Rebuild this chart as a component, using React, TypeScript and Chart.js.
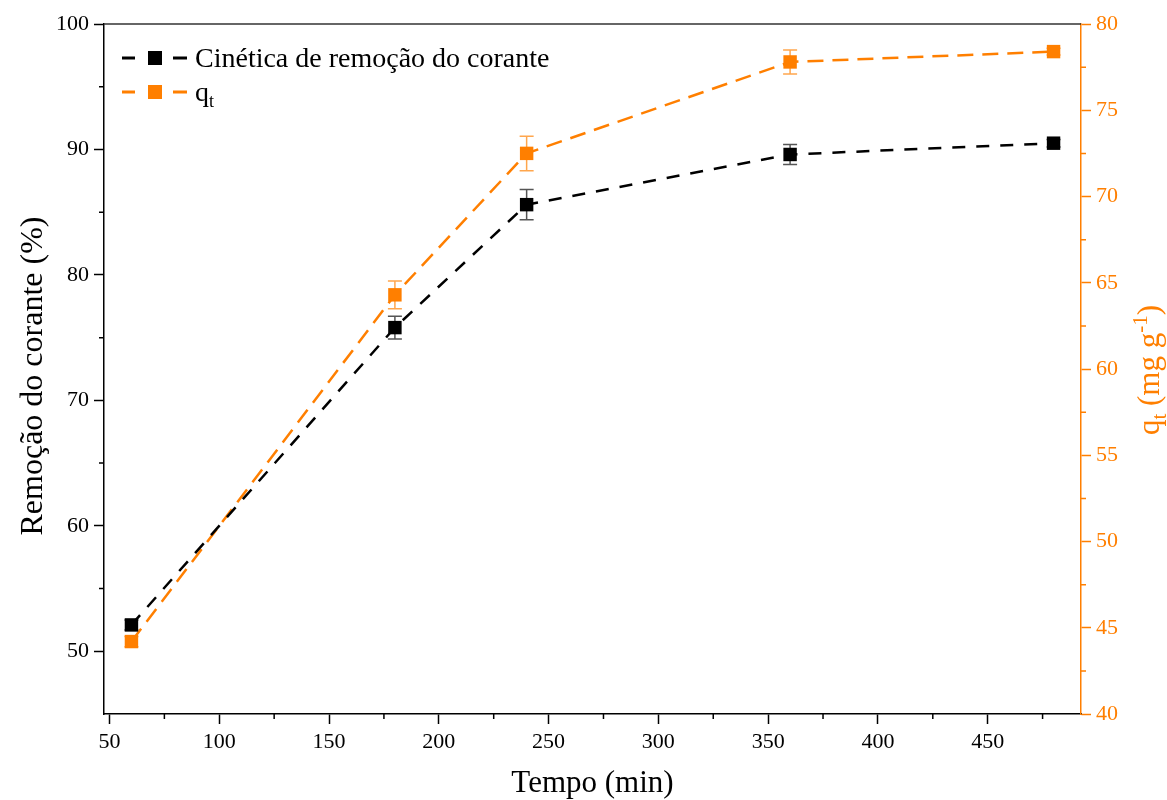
import React, { useEffect, useRef } from "react";
import { Chart, registerables } from "chart.js";

Chart.register(...registerables);

// Contact time (min)
const times = [60, 180, 240, 360, 480];
// Dye removal (%) and its standard deviation
const removal = [52.1, 75.8, 85.6, 89.6, 90.5];
const removalErr = [0.4, 0.9, 1.2, 0.8, 0.3];
// Adsorbed amount q_t (mg g-1) and its standard deviation
const qt = [44.2, 64.3, 72.5, 77.8, 78.4];
const qtErr = [0.3, 0.8, 1.0, 0.7, 0.2];

const xTicks = [50, 100, 150, 200, 250, 300, 350, 400, 450];
const xMinor = [75, 125, 175, 225, 275, 325, 375, 425, 475];
const leftTicks = [50, 60, 70, 80, 90, 100];
const leftMinor = [55, 65, 75, 85, 95];
const rightTicks = [40, 45, 50, 55, 60, 65, 70, 75, 80];
const rightMinor = [42.5, 47.5, 52.5, 57.5, 62.5, 67.5, 72.5, 77.5];

const removalLabel = "Cinética de remoção do corante";
const xTitle = "Tempo (min)";
const leftTitle = "Remoção do corante (%)";

const BLACK = "#000000";
const ORANGE = "#ff7f00";
const FONT = "'Liberation Serif', 'Times New Roman', serif";

const errorBars = {
  id: "errorBars",
  beforeDatasetsDraw(chart: any) {
    const ctx = chart.ctx;
    const sets = [
      { idx: 0, err: removalErr, vals: removal, color: "#555555" },
      { idx: 1, err: qtErr, vals: qt, color: "#ffa64d" },
    ];
    ctx.save();
    for (const s of sets) {
      const meta = chart.getDatasetMeta(s.idx);
      const scale = chart.scales[meta.yAxisID];
      ctx.strokeStyle = s.color;
      ctx.lineWidth = 1.5;
      meta.data.forEach((pt: any, j: number) => {
        const x = pt.x;
        const yt = scale.getPixelForValue(s.vals[j] + s.err[j]);
        const yb = scale.getPixelForValue(s.vals[j] - s.err[j]);
        ctx.beginPath();
        ctx.moveTo(x, yt);
        ctx.lineTo(x, yb);
        ctx.moveTo(x - 7, yt);
        ctx.lineTo(x + 7, yt);
        ctx.moveTo(x - 7, yb);
        ctx.lineTo(x + 7, yb);
        ctx.stroke();
      });
    }
    ctx.restore();
  },
};

const decorations = {
  id: "decorations",
  afterDraw(chart: any) {
    const ctx = chart.ctx;
    const { left, right, top, bottom } = chart.chartArea;
    const sx = chart.scales.x;
    const sy = chart.scales.y;
    const sy1 = chart.scales.y1;
    ctx.save();

    // top frame line
    ctx.strokeStyle = "#333333";
    ctx.lineWidth = 1.5;
    ctx.beginPath();
    ctx.moveTo(left, top);
    ctx.lineTo(right, top);
    ctx.stroke();

    // minor ticks
    ctx.strokeStyle = BLACK;
    ctx.beginPath();
    for (const v of xMinor) {
      const p = sx.getPixelForValue(v);
      ctx.moveTo(p, bottom);
      ctx.lineTo(p, bottom + 5);
    }
    for (const v of leftMinor) {
      const p = sy.getPixelForValue(v);
      ctx.moveTo(left - 5, p);
      ctx.lineTo(left, p);
    }
    ctx.stroke();
    ctx.strokeStyle = ORANGE;
    ctx.beginPath();
    for (const v of rightMinor) {
      const p = sy1.getPixelForValue(v);
      ctx.moveTo(right, p);
      ctx.lineTo(right + 5, p);
    }
    ctx.stroke();

    // axis titles
    ctx.fillStyle = BLACK;
    ctx.font = `31px ${FONT}`;
    ctx.textAlign = "center";
    ctx.textBaseline = "alphabetic";
    ctx.fillText(xTitle, (left + right) / 2, 792);

    ctx.save();
    ctx.translate(32, 376);
    ctx.rotate(-Math.PI / 2);
    ctx.font = `32px ${FONT}`;
    ctx.fillText(leftTitle, 0, 10);
    ctx.restore();

    // right title: q_t (mg g^-1)
    ctx.save();
    ctx.translate(1149, 370);
    ctx.rotate(-Math.PI / 2);
    ctx.fillStyle = ORANGE;
    ctx.textAlign = "left";
    const parts = [
      { t: "q", f: `31px ${FONT}`, dy: 0 },
      { t: "t", f: `21px ${FONT}`, dy: 7 },
      { t: " (mg g", f: `31px ${FONT}`, dy: 0 },
      { t: "-1", f: `21px ${FONT}`, dy: -12 },
      { t: ")", f: `31px ${FONT}`, dy: 0 },
    ];
    let total = 0;
    for (const p of parts) {
      ctx.font = p.f;
      total += ctx.measureText(p.t).width;
    }
    let cx = -total / 2;
    for (const p of parts) {
      ctx.font = p.f;
      ctx.fillText(p.t, cx, 10 + p.dy);
      cx += ctx.measureText(p.t).width;
    }
    ctx.restore();

    // legend
    const rows = [
      { y: 58, color: BLACK },
      { y: 92, color: ORANGE },
    ];
    rows.forEach((r, i) => {
      ctx.strokeStyle = r.color;
      ctx.fillStyle = r.color;
      ctx.lineWidth = 3;
      ctx.beginPath();
      ctx.moveTo(122, r.y);
      ctx.lineTo(135, r.y);
      ctx.moveTo(173, r.y);
      ctx.lineTo(187, r.y);
      ctx.stroke();
      ctx.fillRect(148, r.y - 7, 14, 14);
      ctx.textAlign = "left";
      ctx.fillStyle = BLACK;
      ctx.font = `28px ${FONT}`;
      if (i === 0) {
        ctx.fillText(removalLabel, 195, r.y + 9);
      } else {
        ctx.fillText("q", 195, r.y + 9);
        const w = ctx.measureText("q").width;
        ctx.font = `18px ${FONT}`;
        ctx.fillText("t", 195 + w, r.y + 15);
      }
    });

    ctx.restore();
  },
};

function axisCommon(color: string) {
  return {
    grid: {
      display: true,
      drawOnChartArea: false,
      drawTicks: true,
      tickLength: 10,
      tickColor: color,
      tickWidth: 1.5,
    },
    border: { display: true, color, width: 1.5 },
    ticks: {
      color,
      font: { family: FONT, size: 22 },
      padding: 5,
      maxRotation: 0,
      autoSkip: false,
    },
    title: { display: false },
  };
}

export default function App() {
  const ref = useRef<HTMLCanvasElement | null>(null);

  useEffect(() => {
    if (!ref.current) return;
    const chart = new Chart(ref.current, {
      type: "line",
      data: {
        datasets: [
          {
            label: removalLabel,
            data: times.map((t, i) => ({ x: t, y: removal[i] })),
            yAxisID: "y",
            borderColor: BLACK,
            backgroundColor: BLACK,
            borderDash: [13, 11],
            borderWidth: 2.5,
            pointStyle: "rect",
            pointRadius: 9.5,
            pointBorderWidth: 0,
            pointBackgroundColor: BLACK,
            tension: 0,
          },
          {
            label: "qt",
            data: times.map((t, i) => ({ x: t, y: qt[i] })),
            yAxisID: "y1",
            borderColor: ORANGE,
            backgroundColor: ORANGE,
            borderDash: [16, 9],
            borderWidth: 2.5,
            pointStyle: "rect",
            pointRadius: 9.5,
            pointBorderWidth: 0,
            pointBackgroundColor: ORANGE,
            tension: 0,
          },
        ],
      },
      options: {
        responsive: false,
        animation: false,
        devicePixelRatio: 1,
        layout: { padding: { top: 24, left: 0, right: 0, bottom: 0 } },
        plugins: { legend: { display: false }, tooltip: { enabled: false } },
        scales: {
          x: {
            type: "linear",
            min: 47.5,
            max: 492.5,
            ...axisCommon(BLACK),
            afterBuildTicks: (s: any) => {
              s.ticks = xTicks.map((v) => ({ value: v }));
            },
            afterFit: (s: any) => {
              s.height = 86;
            },
          },
          y: {
            type: "linear",
            position: "left",
            min: 45,
            max: 100,
            ...axisCommon(BLACK),
            afterBuildTicks: (s: any) => {
              s.ticks = leftTicks.map((v) => ({ value: v }));
            },
            afterFit: (s: any) => {
              s.width = 104;
            },
          },
          y1: {
            type: "linear",
            position: "right",
            min: 40,
            max: 80,
            ...axisCommon(ORANGE),
            afterBuildTicks: (s: any) => {
              s.ticks = rightTicks.map((v) => ({ value: v }));
            },
            afterFit: (s: any) => {
              s.width = 86;
            },
          },
        },
      } as any,
      plugins: [errorBars, decorations],
    });
    return () => chart.destroy();
  }, []);

  return (
    <canvas
      ref={ref}
      width={1167}
      height={800}
      style={{ position: "fixed", left: 0, top: 0, width: 1167, height: 800 }}
    />
  );
}
